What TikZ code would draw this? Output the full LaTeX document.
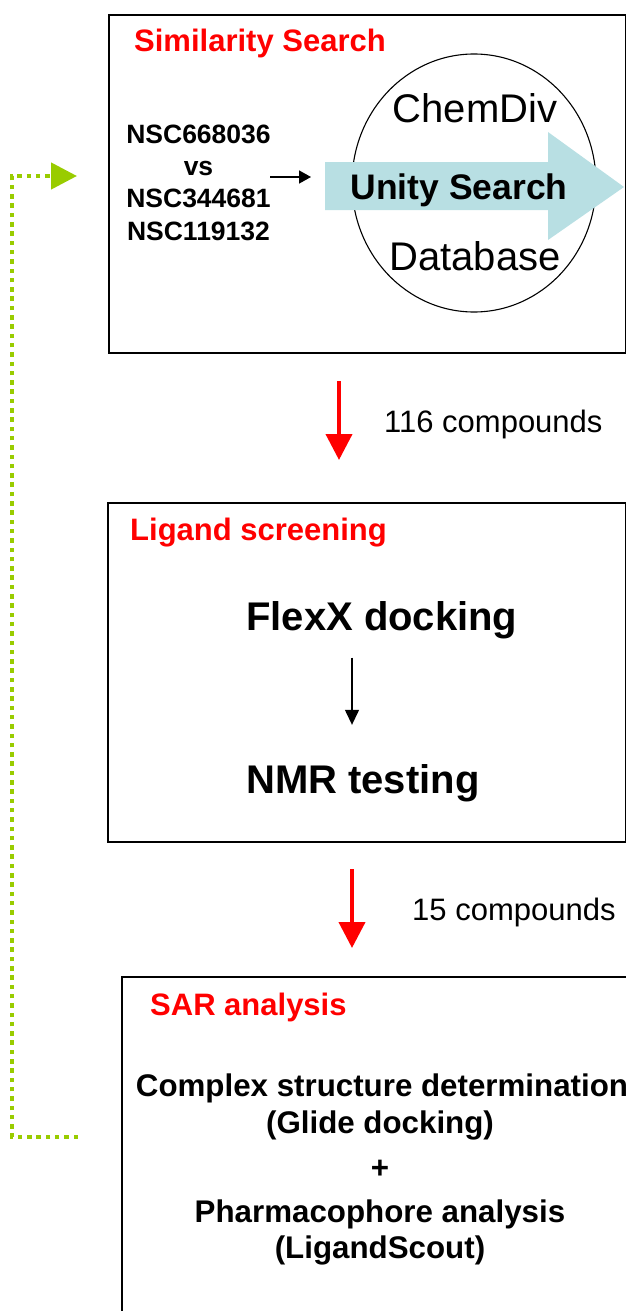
\documentclass[tikz,border=0pt]{standalone}
\usepackage{fontspec}
\setmainfont{Liberation Sans}
\usetikzlibrary{arrows.meta,calc}
\definecolor{tred}{RGB}{255,0,0}
\definecolor{tgreen}{RGB}{153,204,0}
\definecolor{tblue}{RGB}{184,223,227}
\begin{document}
\begin{tikzpicture}[x=1pt,y=-1pt,
  stagebox/.style={draw=black, line width=2pt, anchor=north west, inner sep=0pt},
  title/.style={font=\fontsize{31}{37}\selectfont\bfseries, text=tred, anchor=base west, inner sep=0pt},
  plain/.style={inner sep=0pt, anchor=base},
  redarrow/.style={draw=tred, line width=4pt, -{Triangle[length=26pt,width=26pt]}},
  blackarrow/.style={draw=black, line width=1.3pt, -{Triangle[length=15pt,width=14pt]}},
  greenline/.style={draw=tgreen, line width=4.5pt, dash pattern=on 4.5pt off 4.8pt, -{Triangle[length=26pt,width=26pt]}}
]
\useasboundingbox (0,0) rectangle (626,1311);
\clip (0,0) rectangle (626,1311);

% boxes
\node[stagebox, minimum width=517pt, minimum height=338pt] (box1) at (108,14) {};
\node[stagebox, minimum width=518pt, minimum height=339pt] (box2) at (107,502) {};
\node[stagebox, minimum width=600pt, minimum height=420pt] (box3) at (121,976) {};

% box 1 content
\node[title] (t1) at (134,52) {Similarity Search};
\draw[line width=1.1pt] (474,183) ellipse [x radius=122, y radius=129];
\fill[tblue] (325,162) -- (548,162) -- (548,132) -- (624,187) -- (548,240) -- (548,210) -- (325,210) -- cycle;
\node[plain, font=\fontsize{40}{48}\selectfont] (chem) at (475,123) {ChemDiv};
\node[plain, font=\fontsize{35.5}{42}\selectfont\bfseries] (unity) at (459,199) {Unity Search};
\node[plain, font=\fontsize{40}{48}\selectfont] (db) at (475,270) {Database};
\node[plain, font=\fontsize{26.5}{32.3}\selectfont\bfseries, align=center] (nsc) at (198.5,240) {NSC668036\\vs\\NSC344681\\NSC119132};
\coordinate (sa) at (270,177);
\draw[blackarrow, line width=1.6pt, -{Triangle[length=12pt,width=13pt]}] (sa) -- (sa -| 311,0);

% arrow 1
\coordinate (a1) at (339,0);
\draw[redarrow, shorten <=27pt, shorten >=42pt] (box1.south -| a1) -- (box2.north -| a1);
\node[plain, anchor=base west, font=\fontsize{31}{37}\selectfont] (c116) at (384,432) {116 compounds};

% box 2 content
\node[title] (t2) at (130,540) {Ligand screening};
\node[plain, anchor=base west, font=\fontsize{40}{48}\selectfont\bfseries] (flexx) at (246,630) {FlexX docking};
\node[plain, anchor=base west, font=\fontsize{40}{48}\selectfont\bfseries] (nmr) at (246,793) {NMR testing};
\coordinate (a2) at (352,0);
\draw[blackarrow, shorten >=39pt] (flexx.south -| a2) ++(0,19) -- (nmr.north -| a2);

% arrow 2
\coordinate (a3) at (352,0);
\draw[redarrow, shorten <=26pt, shorten >=28pt] (box2.south -| a3) -- (box3.north -| a3);
\node[plain, anchor=base west, font=\fontsize{31}{37}\selectfont] (c15) at (412,920) {15 compounds};

% box 3 content
\node[title] (t3) at (150,1015) {SAR analysis};
\begin{scope}[every node/.style={plain, font=\fontsize{31.3}{37}\selectfont\bfseries}]
\node (s1) at (382,1096) {Complex structure determination};
\node (s2) at (380,1133) {(Glide docking)};
\node (s3) at (380,1178) {+};
\node (s4) at (380,1222) {Pharmacophore analysis};
\node (s5) at (380,1258) {(LigandScout)};
\end{scope}

% green feedback loop
\coordinate (gstart) at (78,1137);
\coordinate (gcorner) at (12,176);
\coordinate (gend) at (77,176);
\draw[greenline] (gstart) -| (gcorner) -- (gend);
\end{tikzpicture}
\end{document}
